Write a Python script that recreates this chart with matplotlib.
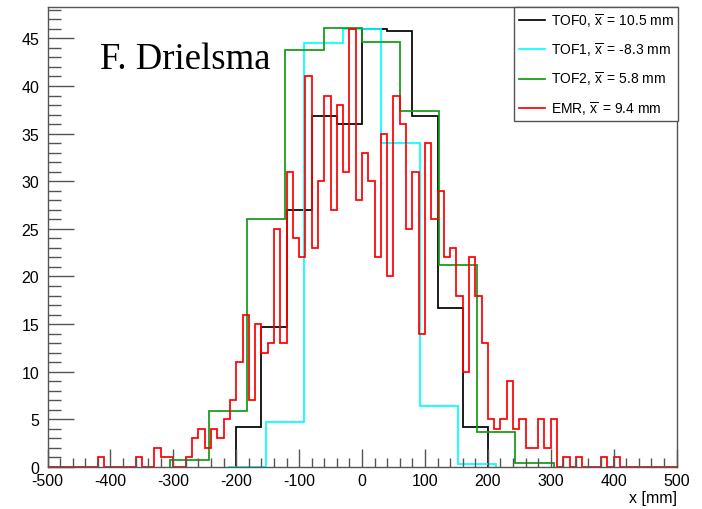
import numpy as np
import matplotlib
matplotlib.use('Agg')
import matplotlib.pyplot as plt

plt.rcParams['font.family'] = ['Liberation Sans', 'DejaVu Sans']
plt.rcParams['mathtext.fontset'] = 'custom'
plt.rcParams['mathtext.rm'] = 'Liberation Sans'
plt.rcParams['mathtext.it'] = 'Liberation Sans'

# bin edges (mm) and contents for each detector
tof0_edges = [-200, -160, -120, -80, -40, 0, 40, 80, 120, 160, 200]
tof0_vals = [4.17, 14.7, 27.0, 36.8, 36.0, 46.0, 45.8, 36.8, 16.7, 4.17]

tof1_edges = [-213.5, -152.5, -91.5, -30.5, 30.5, 91.5, 152.5, 213.5]
tof1_vals = [0.0, 4.7, 44.55, 46.0, 34.05, 6.45, 0.31]

tof2_edges = [-305, -244, -183, -122, -61, 0, 61, 122, 183, 244, 305]
tof2_vals = [0.74, 5.92, 26.0, 43.8, 46.06, 44.6, 37.4, 21.24, 3.68, 0.42]

emr_edges = np.arange(-500, 510, 10)
emr_vals = [0, 0, 0, 0, 0, 0, 0, 0, 1, 0,
            0, 0, 0, 0, 1, 0, 0, 2, 1, 1,
            0, 0, 1, 3, 4, 2, 4, 3, 5, 7,
            11, 16, 7, 15, 12, 13, 25, 13, 31, 24,
            22, 41, 23, 30, 39, 27, 38, 31, 46, 28,
            33, 30, 22, 35, 20, 39, 36, 25, 31, 14,
            34, 26, 29, 22, 23, 18, 10, 22, 18, 13,
            5, 4, 5, 9, 4, 5, 2, 2, 5, 2,
            5, 0, 1, 0, 1, 0, 0, 0, 1, 0,
            1, 0, 0, 0, 0, 0, 0, 0, 0, 0]

labels = [r'TOF0, $\overline{\mathrm{x}}\,$ = 10.5 mm',
          r'TOF1, $\overline{\mathrm{x}}\,$ = -8.3 mm',
          r'TOF2, $\overline{\mathrm{x}}\,$ = 5.8 mm',
          r'EMR, $\overline{\mathrm{x}}\,$ = 9.4 mm']
colors = ['black', '#00ffff', '#139913', '#ff0000']

fig = plt.figure(figsize=(7.02, 5.10), dpi=100)
ax = fig.add_axes([0.0677, 0.0824, 0.896, 0.902])

series = [(tof0_vals, tof0_edges), (tof1_vals, tof1_edges),
          (tof2_vals, tof2_edges), (emr_vals, emr_edges)]
for (vals, edges), col, lab in zip(series, colors, labels):
    ax.stairs(vals, edges, color=col, lw=1.25, label=lab)

ax.set_xlim(-500, 500)
ax.set_ylim(0, 48.3)
ax.set_xticks(np.arange(-500, 501, 100))
ax.set_xticks(np.arange(-500, 501, 20), minor=True)
ax.set_yticks(np.arange(0, 46, 5))
ax.set_yticks(np.arange(0, 49, 1), minor=True)
ax.tick_params(axis='x', which='major', direction='in', length=13, width=1,
               color='#555555', labelsize=11.5, pad=4)
ax.tick_params(axis='x', which='minor', direction='in', length=6.5, width=1,
               color='#555555')
ax.tick_params(axis='y', which='major', direction='in', length=19, width=1,
               color='#555555', labelsize=11.5, pad=6)
ax.tick_params(axis='y', which='minor', direction='in', length=9.5, width=1,
               color='#555555')
for sp in ax.spines.values():
    sp.set_color('#555555')
    sp.set_linewidth(1)

ax.xaxis.set_major_formatter(plt.FuncFormatter(lambda v, p: '%d' % v))
ax.set_xlabel('x [mm]', fontsize=11.5, loc='right', labelpad=2)

ax.text(0.083, 0.868, 'F. Drielsma', transform=ax.transAxes,
        fontsize=26.5, family='Liberation Serif', va='baseline')

leg = ax.legend(loc='upper right', bbox_to_anchor=(1.003, 1.0), borderaxespad=0,
                fancybox=False, framealpha=1, edgecolor='#555555', fontsize=10,
                handlelength=1.9, labelspacing=0.84, borderpad=0.35,
                handletextpad=0.4)
leg.get_frame().set_linewidth(1)
for h in leg.get_lines():
    h.set_linewidth(1.25)

plt.savefig('out.png', dpi=100)
